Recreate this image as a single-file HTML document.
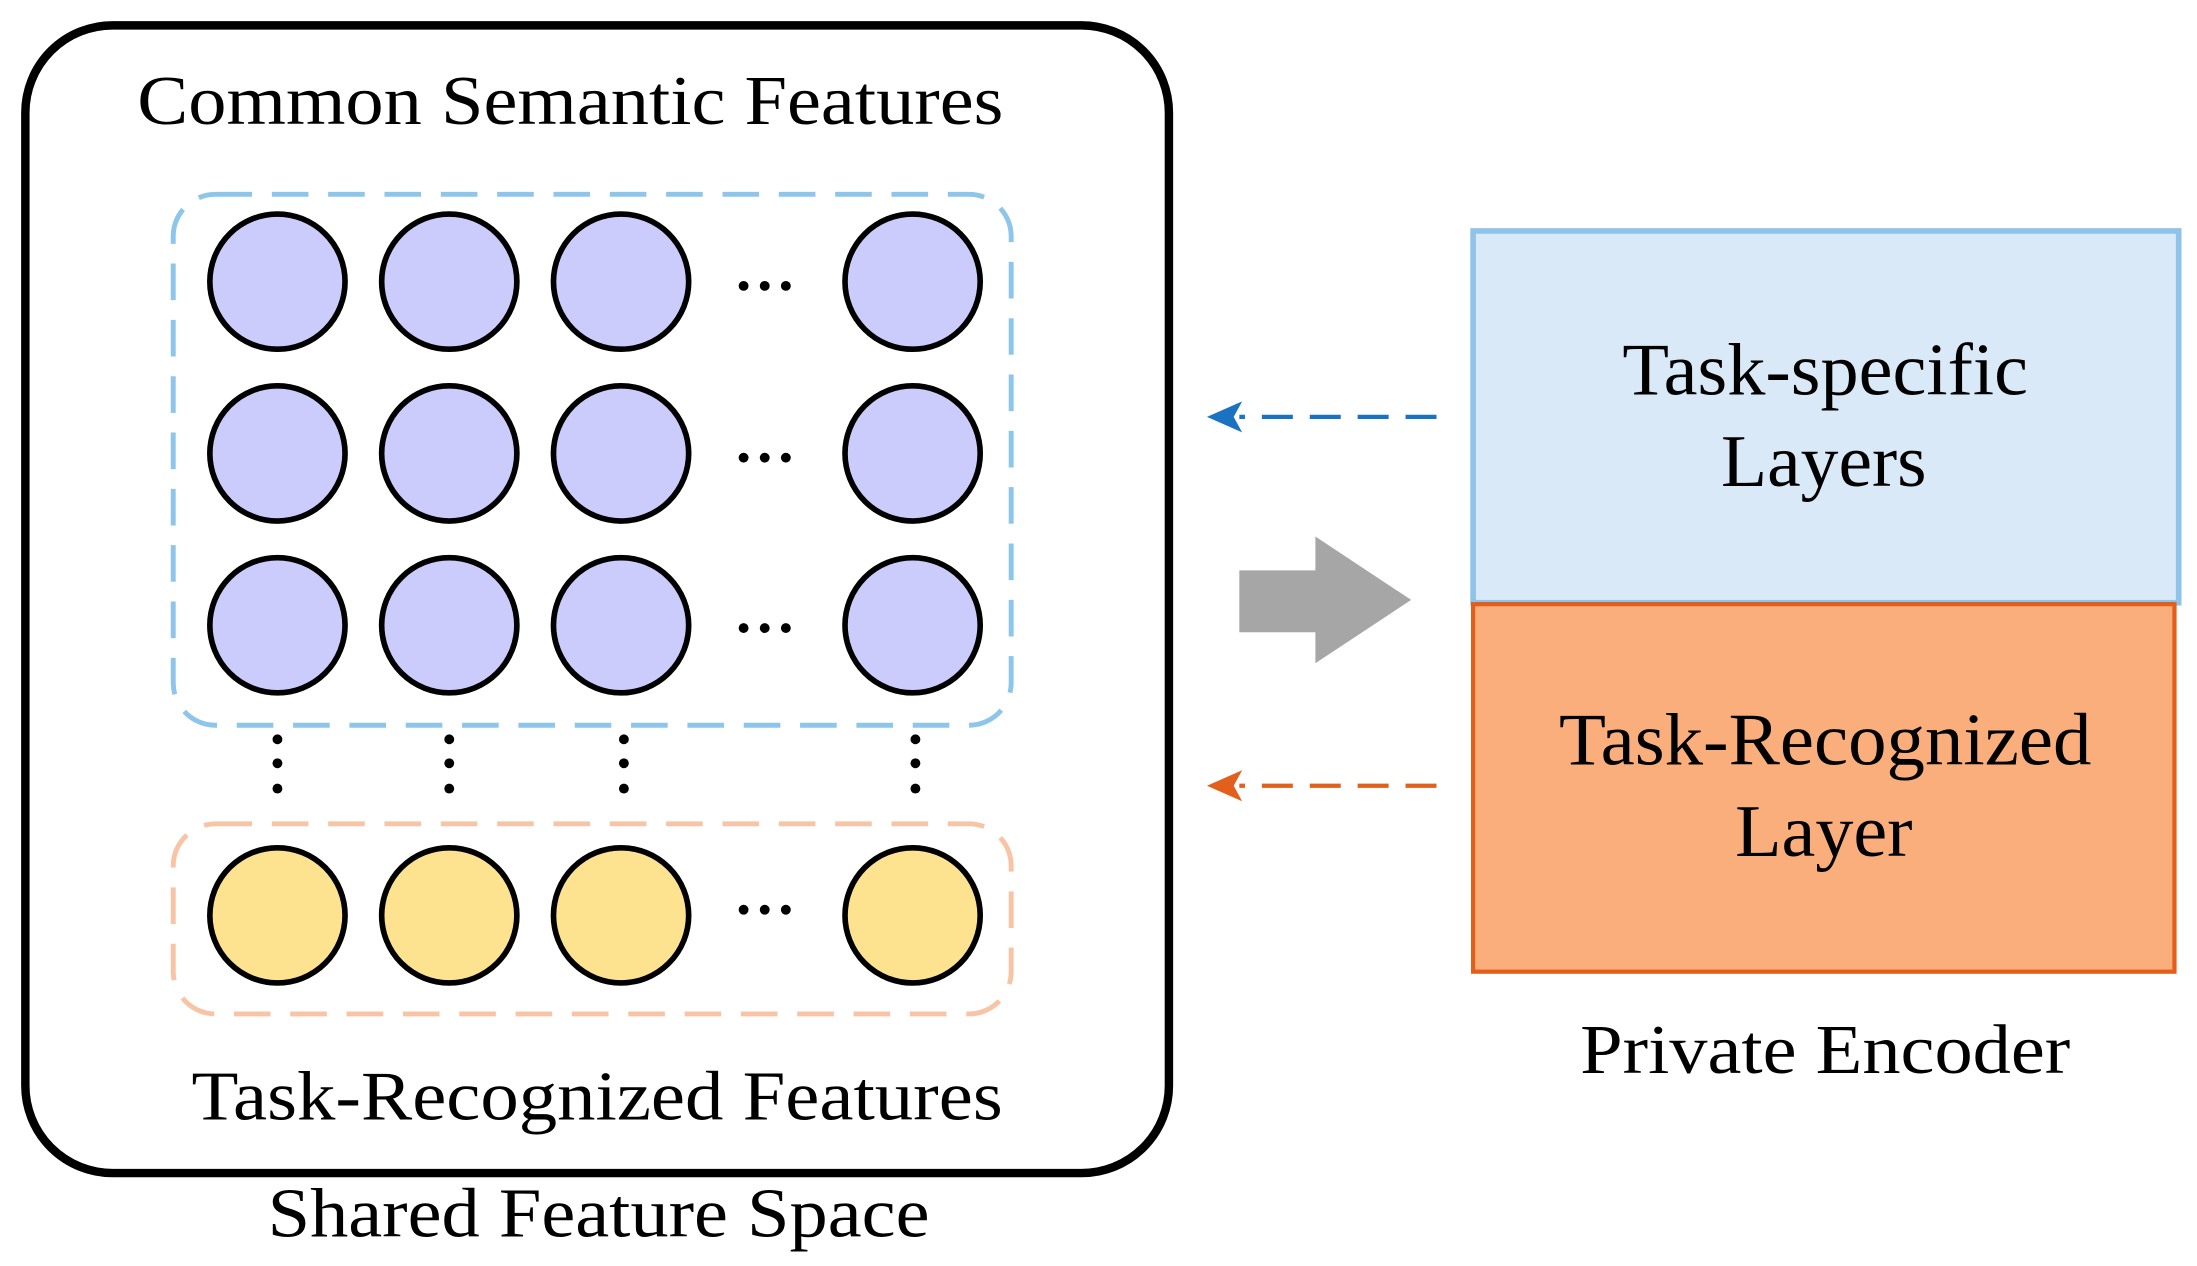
<!DOCTYPE html>
<html><head><meta charset="utf-8"><style>
html,body{margin:0;padding:0;background:#fff;}
svg{display:block;}
text{font-family:"Liberation Serif",serif;fill:#000;}
</style></head><body>
<svg width="2197" height="1266" viewBox="0 0 1560 899" preserveAspectRatio="none" xmlns="http://www.w3.org/2000/svg">
<rect x="18" y="18" width="812" height="815" rx="62" fill="#fff" stroke="#000" stroke-width="6"/>
<text x="405" y="88" font-size="50" text-anchor="middle" textLength="615" lengthAdjust="spacingAndGlyphs">Common Semantic Features</text>
<rect x="123" y="138" width="595" height="377" rx="30" fill="none" stroke="#8ec5ea" stroke-width="3.5" stroke-dasharray="26,14"/>
<rect x="123" y="585" width="595" height="135" rx="30" fill="none" stroke="#f8c4a6" stroke-width="3.5" stroke-dasharray="26,14"/>
<g stroke="#000" stroke-width="4" fill="#ccccfc">
<circle cx="197" cy="200" r="48"/><circle cx="319" cy="200" r="48"/><circle cx="441" cy="200" r="48"/><circle cx="648" cy="200" r="48"/>
<circle cx="197" cy="322" r="48"/><circle cx="319" cy="322" r="48"/><circle cx="441" cy="322" r="48"/><circle cx="648" cy="322" r="48"/>
<circle cx="197" cy="444" r="48"/><circle cx="319" cy="444" r="48"/><circle cx="441" cy="444" r="48"/><circle cx="648" cy="444" r="48"/>
</g>
<g stroke="#000" stroke-width="4" fill="#fde28f">
<circle cx="197" cy="650" r="48"/><circle cx="319" cy="650" r="48"/><circle cx="441" cy="650" r="48"/><circle cx="648" cy="650" r="48"/>
</g>
<g fill="#000">
<circle cx="528" cy="203" r="3.5"/><circle cx="543" cy="203" r="3.5"/><circle cx="558" cy="203" r="3.5"/>
<circle cx="528" cy="325" r="3.5"/><circle cx="543" cy="325" r="3.5"/><circle cx="558" cy="325" r="3.5"/>
<circle cx="528" cy="446" r="3.5"/><circle cx="543" cy="446" r="3.5"/><circle cx="558" cy="446" r="3.5"/>
<circle cx="528" cy="646" r="3.5"/><circle cx="543" cy="646" r="3.5"/><circle cx="558" cy="646" r="3.5"/>
<circle cx="197" cy="525" r="3.5"/><circle cx="197" cy="542" r="3.5"/><circle cx="197" cy="560" r="3.5"/>
<circle cx="319" cy="525" r="3.5"/><circle cx="319" cy="542" r="3.5"/><circle cx="319" cy="560" r="3.5"/>
<circle cx="443" cy="525" r="3.5"/><circle cx="443" cy="542" r="3.5"/><circle cx="443" cy="560" r="3.5"/>
<circle cx="650" cy="525" r="3.5"/><circle cx="650" cy="542" r="3.5"/><circle cx="650" cy="560" r="3.5"/>
</g>
<text x="424" y="795" font-size="50" text-anchor="middle" textLength="576" lengthAdjust="spacingAndGlyphs">Task-Recognized Features</text>
<text x="425" y="878" font-size="50" text-anchor="middle" textLength="470" lengthAdjust="spacingAndGlyphs">Shared Feature Space</text>
<rect x="1046" y="164" width="501" height="264" fill="#dae9f7" stroke="#8fc3e8" stroke-width="4"/>
<rect x="1046" y="429" width="498" height="261" fill="#f9ae7c" stroke="#e35e1a" stroke-width="3"/>
<text x="1296" y="280" font-size="53" text-anchor="middle" textLength="288" lengthAdjust="spacingAndGlyphs">Task-specific</text>
<text x="1295" y="345" font-size="53" text-anchor="middle" textLength="146" lengthAdjust="spacingAndGlyphs">Layers</text>
<text x="1296" y="543" font-size="53" text-anchor="middle" textLength="378" lengthAdjust="spacingAndGlyphs">Task-Recognized</text>
<text x="1295" y="608" font-size="53" text-anchor="middle" textLength="126" lengthAdjust="spacingAndGlyphs">Layer</text>
<text x="1296" y="762" font-size="50" text-anchor="middle" textLength="348" lengthAdjust="spacingAndGlyphs">Private Encoder</text>
<line x1="1020" y1="296" x2="880" y2="296" stroke="#1b72c0" stroke-width="3" stroke-dasharray="22,12"/>
<polygon points="857,296 882,285 876,296 882,307" fill="#1b72c0"/>
<line x1="1020" y1="558" x2="880" y2="558" stroke="#e2601b" stroke-width="3" stroke-dasharray="22,12"/>
<polygon points="857,558 882,547 876,558 882,569" fill="#e2601b"/>
<polygon points="880,405 934,405 934,381 1002,426 934,471 934,449 880,449" fill="#a6a6a6"/>
</svg>
</body></html>
